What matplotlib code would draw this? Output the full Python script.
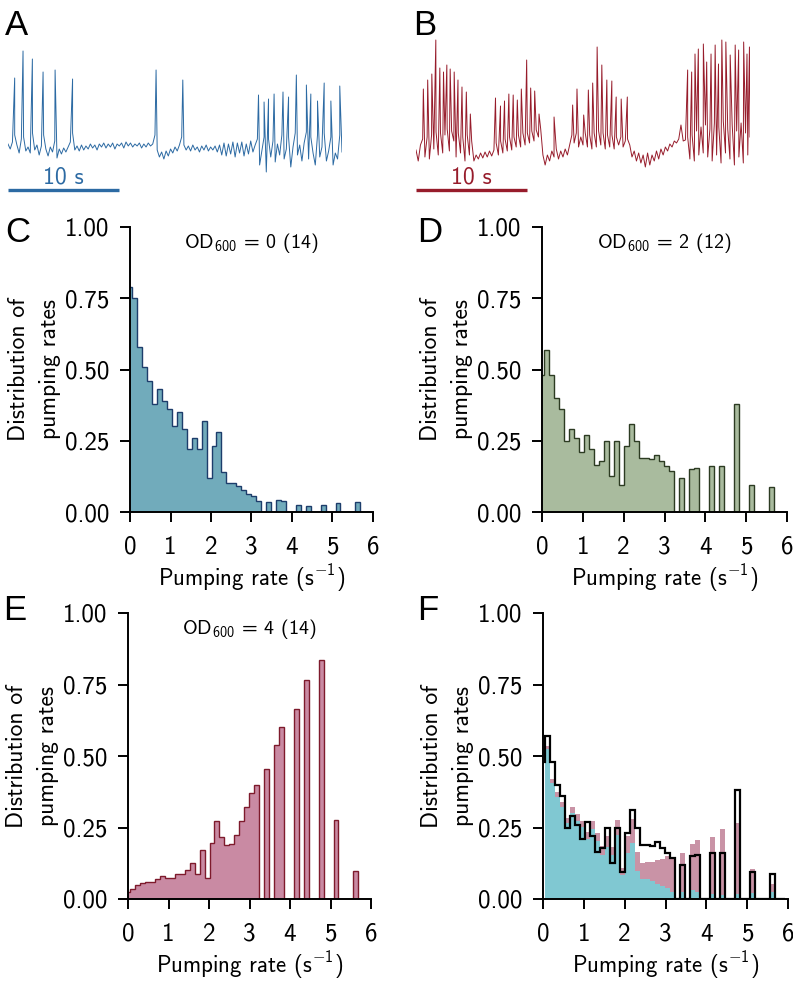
import numpy as np
import matplotlib
matplotlib.use("Agg")
import matplotlib.pyplot as plt
from matplotlib.ticker import FormatStrFormatter

plt.rcParams.update({
    "font.family": "cmss10",
    "mathtext.fontset": "custom",
    "mathtext.rm": "cmss10",
    "mathtext.sf": "cmss10",
    "mathtext.it": "cmss10",
    "mathtext.bf": "cmss10",
    "axes.unicode_minus": False,
})

# ---------------- data ----------------
# histogram bins (pumping rate, s^-1)
bin_start = -0.07
bin_width = 0.1225
n_bins = 49

hist_od0 = [0.79, 0.75, 0.58, 0.51, 0.46, 0.38, 0.43, 0.39, 0.36, 0.30,
            0.35, 0.29, 0.22, 0.26, 0.22, 0.32, 0.12, 0.23, 0.28, 0.14,
            0.10, 0.10, 0.09, 0.076, 0.063, 0.055, 0.037, 0, 0.035, 0,
            0.043, 0.037, 0, 0, 0.025, 0, 0.02, 0, 0, 0.023,
            0, 0, 0.03, 0, 0, 0, 0.036, 0, 0]
hist_od2 = [0.48, 0.57, 0.48, 0.40, 0.36, 0.25, 0.29, 0.26, 0.21, 0.27,
            0.22, 0.166, 0.18, 0.25, 0.125, 0.25, 0.094, 0.23, 0.31, 0.25,
            0.19, 0.19, 0.186, 0.20, 0.18, 0.16, 0.145, 0, 0.12, 0,
            0.15, 0.155, 0, 0, 0.16, 0, 0.16, 0, 0, 0.38,
            0, 0, 0.094, 0, 0, 0, 0.088, 0, 0]
hist_od4 = [0.025, 0.034, 0.048, 0.057, 0.06, 0.06, 0.069, 0.082, 0.074, 0.075,
            0.089, 0.089, 0.10, 0.126, 0.089, 0.17, 0.075, 0.197, 0.273, 0.217,
            0.19, 0.193, 0.225, 0.273, 0.32, 0.372, 0.40, 0, 0.453, 0,
            0.54, 0.60, 0, 0, 0.663, 0, 0.767, 0, 0, 0.837,
            0, 0, 0.277, 0, 0, 0, 0.098, 0, 0]
# panel F: stacked components (cyan part, pink part on top)
mix_cyan = [0, 0.525, 0.406, 0.357, 0.322, 0.266, 0.301, 0.273, 0.252, 0.21,
            0.245, 0.203, 0.154, 0.182, 0.154, 0.224, 0.084, 0.161, 0.196, 0.098,
            0.07, 0.07, 0.063, 0.053, 0.044, 0.039, 0.026, 0, 0.025, 0,
            0.03, 0.026, 0, 0, 0.018, 0, 0.014, 0, 0, 0.016,
            0, 0, 0.021, 0, 0, 0, 0.025, 0, 0]
mix_pink = [0, 0.010, 0.014, 0.017, 0.018, 0.018, 0.021, 0.025, 0.022, 0.023,
            0.027, 0.027, 0.03, 0.038, 0.027, 0.051, 0.023, 0.059, 0.082, 0.065,
            0.057, 0.058, 0.068, 0.082, 0.096, 0.112, 0.12, 0, 0.136, 0,
            0.162, 0.18, 0, 0, 0.199, 0, 0.23, 0, 0, 0.251,
            0, 0, 0.083, 0, 0, 0, 0.029, 0, 0]

titles = ["OD$_{600}$ = 0 (14)", "OD$_{600}$ = 2 (12)", "OD$_{600}$ = 4 (14)"]
x_ticks = [0, 1, 2, 3, 4, 5, 6]
y_ticks = [0.0, 0.25, 0.5, 0.75, 1.0]

# traces (sampled every 0.2 s) and spike peaks
trace_dt = 0.2
trace_a = [3, -2, 5, 12, 2, -6, 8, 10, -4, 0,
           -6, 14, -3, 2, -8, 1, 12, -2, -9, 0,
           -5, 6, -11, -2, -7, -1, -5, 0, 5, 14,
           -3, 1, -4, 2, -3, 1, -2, 3, -1, 2,
           -3, 3, 0, 4, -1, 3, 0, 4, -2, 3,
           1, 4, -1, 5, 1, 4, 0, 3, 1, 4,
           -1, 3, 0, 4, 1, 3, 12, -3, -10, -5,
           -12, -4, -9, -2, -6, 0, -4, 2, 10, 2,
           -3, 1, -4, 2, -3, 0, -5, 1, -3, 2,
           -4, 0, -3, 1, -5, 2, -8, 4, -9, 3,
           -7, 5, -10, 4, -6, 5, -9, 3, -7, 6,
           -5, 2, 8, -18, -4, 10, -25, 8, -10, 6,
           -15, 3, -8, 12, -12, -2, 10, -20, 0, 14,
           -8, 2, -14, 4, 15, -12, 10, -6, -18, 12,
           -10, 0, 14, -14, -4, 10, -18, -6, -12, 12,
           -5]
spike_a_t = [0.6, 1.35, 2.19, 3.15, 4.23, 5.8, 13.3, 15.7,
             22.5, 23.0, 23.4, 23.9, 24.7, 25.2, 25.9, 26.8, 27.2, 27.8,
             28.4, 29.0, 29.8]
spike_a_v = [69, 96, 88, 75, 77, 68, 77, 67,
             52, 45, 48, 53, 55, 50, 72, 62, 53, 46,
             64, 46, 61]

trace_b = [-3, -14, 2, 8, -10, 10, -12, 12, -2, 15,
           -8, 14, -6, 12, 18, -4, 16, 6, -10, 14,
           -6, 10, -14, 12, -8, 6, -14, -8, -12, -6,
           -11, -5, -10, -4, -9, -3, 4, -8, 6, -6,
           8, -4, 10, -3, 10, 0, 12, 0, 14, 2,
           14, 4, 16, 6, 17, 10, 18, -8, -18, -8,
           -14, -4, -10, -2, -12, -4, -10, -2, -8, 2,
           12, 4, 14, 0, 10, 2, 14, 0, 12, -2,
           14, 0, 16, 2, 14, -2, 12, 0, 12, -2,
           10, 2, 10, 0, 6, 8, 2, -10, -4, -14,
           -6, -16, -8, -20, -6, -18, -8, -14, -4, -12,
           -2, -8, 0, -4, 3, 0, 6, 4, 8, 22,
           6, 7, 10, -12, 12, -14, 16, -8, 20, -6,
           22, -10, 18, -14, 24, -8, 20, -16, 26, -6,
           18, -12, 22, -18, 16, -10, 24, -16, 14, -8,
           10]
spike_b_t = [0.66, 1.05, 1.42, 1.78, 2.14, 2.47, 2.77, 3.07, 3.43, 3.77, 4.13, 4.52, 4.88,
             7.14, 7.59, 7.95, 8.34, 8.73, 9.10, 9.46, 9.94, 10.30, 10.66, 11.05, 12.4,
             14.07, 14.46, 15.06, 15.48, 15.87, 16.27, 16.69, 17.14, 17.59, 17.98, 18.43, 18.98,
             24.4, 24.76, 25.06, 25.36, 25.81, 26.11, 26.5, 26.87, 27.17, 27.47, 27.83,
             28.22, 28.67, 28.98, 29.43, 29.73, 29.95]
spike_b_v = [58, 67, 73, 107, 79, 75, 82, 78, 75, 67, 60, 55, 33,
             49, 41, 46, 53, 52, 47, 58, 87, 59, 56, 33, 30,
             42, 58, 32, 57, 64, 100, 82, 67, 66, 50, 48, 50,
             77, 75, 93, 98, 103, 85, 93, 102, 83, 107, 105,
             92, 102, 97, 105, 93, 100]

# ---------------- styling ----------------
col_a = "#2c6aa3"
col_b = "#971c2b"
face_c, edge_c = "#71abbb", "#1d3d6b"
face_d, edge_d = "#a9bb9e", "#2c3b22"
face_e, edge_e = "#c98aa3", "#7e1a2c"
face_f_cyan, face_f_pink = "#80c8d2", "#c993a6"

W, H = 793, 982
fig = plt.figure(figsize=(W / 100, H / 100), dpi=100)
fig.patch.set_facecolor("white")


def px_axes(left, top, right, bottom):
    return fig.add_axes([left / W, 1 - bottom / H, (right - left) / W, (bottom - top) / H])


bin_edges = bin_start + bin_width * np.arange(n_bins + 1)


def build_trace(base, st, sv):
    t = np.arange(len(base)) * trace_dt
    tt = np.concatenate([t, np.asarray(st, float)])
    vv = np.concatenate([np.asarray(base, float), np.asarray(sv, float)])
    order = np.argsort(tt, kind="stable")
    return tt[order], vv[order]


def trace_panel(left, base, st, sv, color, letter):
    ax = px_axes(left, 32, left + 334, 197)
    t, v = build_trace(base, st, sv)
    ax.plot(t, v, color=color, lw=0.7)
    ax.plot([0, 10], [-43.5, -43.5], color=color, lw=2.4, solid_capstyle="butt")
    ax.text(5, -30, "10 s", color=color, fontsize=17, ha="center", va="center")
    ax.set_xlim(0, 30)
    ax.set_ylim(-50, 115)
    ax.axis("off")
    fig.text((left - 3) / W, 1 - 35 / H, letter, fontsize=25, family="Liberation Sans",
             ha="left", va="baseline")


trace_panel(8, trace_a, spike_a_t, spike_a_v, col_a, "A")
trace_panel(416, trace_b, spike_b_t, spike_b_v, col_b, "B")


def style_hist_axes(ax):
    ax.set_xlim(0, 6)
    ax.set_ylim(0, 1)
    for s in ["top", "right"]:
        ax.spines[s].set_visible(False)
    for s in ["left", "bottom"]:
        ax.spines[s].set_linewidth(1.4)
    ax.set_xticks(x_ticks)
    ax.set_yticks(y_ticks)
    ax.yaxis.set_major_formatter(FormatStrFormatter("%.2f"))
    ax.tick_params(axis="both", direction="out", length=7, width=1.4, labelsize=18)
    ax.tick_params(axis="y", pad=8)
    ax.tick_params(axis="x", pad=10)
    ax.set_xlabel("Pumping rate (s$^{-1}$)", fontsize=16.5, labelpad=3)
    ax.set_ylabel("Distribution of\npumping rates", fontsize=17, labelpad=3, linespacing=1.5)


panels = [
    ("C", 130, 227, 373, 512, hist_od0, face_c, edge_c, titles[0]),
    ("D", 542, 227, 787, 512, hist_od2, face_d, edge_d, titles[1]),
    ("E", 128, 613, 371, 899, hist_od4, face_e, edge_e, titles[2]),
]
for letter, l, t, r, b, vals, fc, ec, title in panels:
    ax = px_axes(l, t, r, b)
    ax.stairs(vals, bin_edges, fill=True, facecolor=fc, edgecolor=ec, linewidth=1.0)
    style_hist_axes(ax)
    ax.text(0.5, 0.945, title, transform=ax.transAxes, ha="center", va="center", fontsize=14.5)
    base_y = 242 if t < 500 else 620
    fig.text((l - 125) / W, 1 - base_y / H, letter, fontsize=25,
             family="Liberation Sans", ha="left", va="baseline")

# panel F
axf = px_axes(543, 613, 788, 899)
axf.stairs(mix_cyan, bin_edges, fill=True, facecolor=face_f_cyan, linewidth=0)
axf.stairs(np.add(mix_cyan, mix_pink), bin_edges, baseline=mix_cyan, fill=True,
           facecolor=face_f_pink, linewidth=0)
axf.stairs(hist_od2, bin_edges, color="black", linewidth=1.6)
style_hist_axes(axf)
fig.text((543 - 126) / W, 1 - 620 / H, "F", fontsize=25,
         family="Liberation Sans", ha="left", va="baseline")

fig.savefig("out.png", dpi=100, facecolor="white")
